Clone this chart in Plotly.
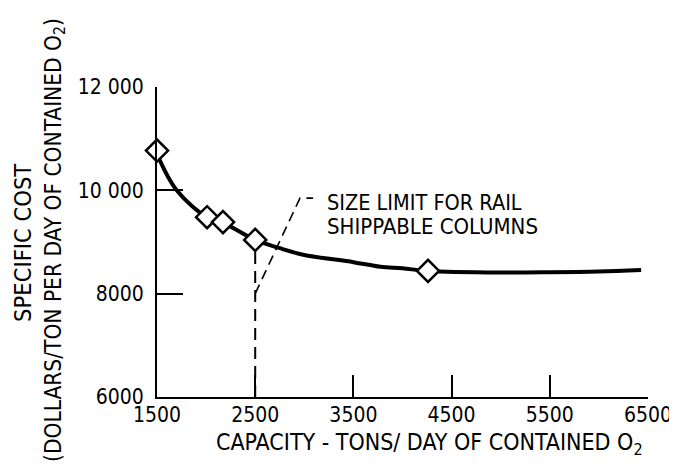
import plotly.graph_objects as go

# ---- data ----
curve_x = [1500, 1700, 2010, 2175, 2500, 2750, 3000, 3500, 3775, 4000, 4260, 5000, 5500, 6000, 6430]
curve_y = [10700, 10000, 9480, 9370, 9040, 8880, 8750, 8610, 8520, 8490, 8440, 8410, 8415, 8430, 8460]

point_x = [1500, 2010, 2172, 2500, 4260]
point_y = [10770, 9480, 9385, 9040, 8440]

limit_x = [2500, 2500]
limit_y = [6000, 9040]

leader_x = [2500, 2956, 3090]
leader_y = [8000, 9850, 9850]

x_ticks = [1500, 2500, 3500, 4500, 5500, 6500]
x_ticktext = ["1500", "2500", "3500", "4500", "5500", "6500"]
y_ticks = [6000, 8000, 10000, 12000]
y_ticktext = ["6000", "8000", "10 000", "12 000"]

FONT = "DejaVu Sans Condensed, Liberation Sans Narrow, sans-serif"

fig = go.Figure()

fig.add_trace(go.Scatter(x=limit_x, y=limit_y, mode="lines",
                         line=dict(color="black", width=2, dash="12px,7px"),
                         hoverinfo="skip", showlegend=False))
fig.add_trace(go.Scatter(x=leader_x, y=leader_y, mode="lines",
                         line=dict(color="black", width=1.6, dash="10px,6px"),
                         hoverinfo="skip", showlegend=False))
fig.add_trace(go.Scatter(x=curve_x, y=curve_y, mode="lines",
                         line=dict(color="black", width=4, shape="spline", smoothing=1.0),
                         showlegend=False))
fig.add_trace(go.Scatter(x=point_x, y=point_y, mode="markers",
                         marker=dict(symbol="diamond", size=17, color="white",
                                     line=dict(color="black", width=2.5)),
                         showlegend=False, cliponaxis=False))

fig.add_annotation(x=3211, y=9773, xref="x", yref="y", text="SIZE LIMIT FOR RAIL",
                   showarrow=False, xanchor="left", yanchor="middle",
                   font=dict(family=FONT, size=21.5, color="black"))
fig.add_annotation(x=3211, y=9300, xref="x", yref="y", text="SHIPPABLE COLUMNS",
                   showarrow=False, xanchor="left", yanchor="middle",
                   font=dict(family=FONT, size=22, color="black"))

# axis titles
fig.add_annotation(x=0.556, y=-0.153, xref="paper", yref="paper",
                   text="CAPACITY - TONS/ DAY OF CONTAINED O<sub>2</sub>",
                   showarrow=False, xanchor="center", yanchor="middle",
                   font=dict(family=FONT, size=23, color="black"))
fig.add_annotation(x=-0.273, y=0.497, xref="paper", yref="paper",
                   text="SPECIFIC COST", textangle=-90,
                   showarrow=False, xanchor="center", yanchor="middle",
                   font=dict(family=FONT, size=23.5, color="black"))
fig.add_annotation(x=-0.208, y=0.506, xref="paper", yref="paper",
                   text="(DOLLARS/TON PER DAY OF CONTAINED O<sub>2</sub>)", textangle=-90,
                   showarrow=False, xanchor="center", yanchor="middle",
                   font=dict(family=FONT, size=22.5, color="black"))

fig.update_xaxes(range=[1500, 6500], showgrid=False, zeroline=False, automargin=False,
                 showline=True, linecolor="black", linewidth=2,
                 ticks="inside", ticklen=22, tickwidth=2, tickcolor="black",
                 tickvals=x_ticks, ticktext=x_ticktext, ticklabelstandoff=-2,
                 tickfont=dict(family=FONT, size=21, color="black"))
fig.update_yaxes(range=[6000, 12000], showgrid=False, zeroline=False, automargin=False,
                 showline=True, linecolor="black", linewidth=2,
                 ticks="inside", ticklen=26, tickwidth=2, tickcolor="black",
                 tickvals=y_ticks, ticktext=y_ticktext, ticklabelstandoff=7,
                 tickfont=dict(family=FONT, size=21, color="black"))

# the page body adds an 8px margin, so the figure is sized to fit the 677x473 window
fig.update_layout(width=669, height=465,
                  margin=dict(l=149, r=29, t=79, b=76, autoexpand=False),
                  plot_bgcolor="white", paper_bgcolor="white",
                  showlegend=False)

fig.write_html("out.html")
